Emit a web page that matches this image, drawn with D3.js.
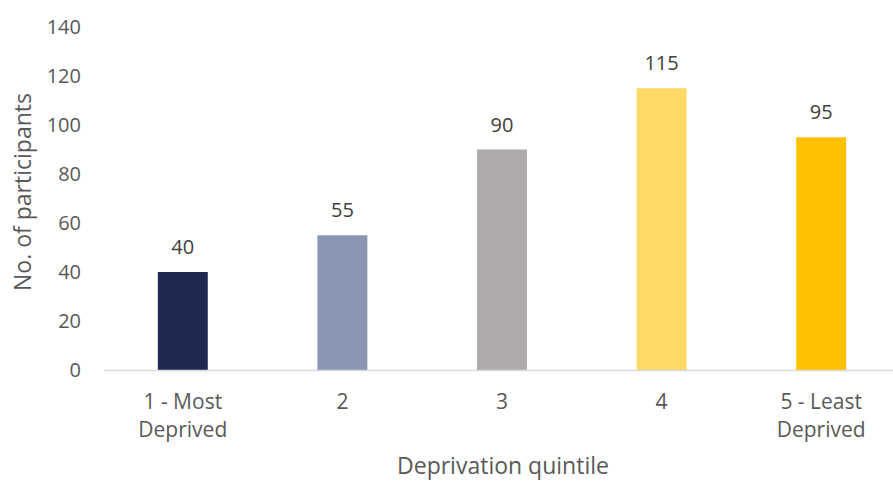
<!DOCTYPE html>
<html>
<head>
<meta charset="utf-8">
<script src="https://cdn.jsdelivr.net/npm/d3@7"></script>
<style>
    body { margin: 0; background: #fff; }
    text { font-family: "Open Sans", Lato, sans-serif; fill: #595959; }
</style>
</head>
<body>
<svg id="chart" width="893" height="481"></svg>
<script>
var categories = [["1 - Most", "Deprived"], ["2"], ["3"], ["4"], ["5 - Least", "Deprived"]];
var values = [40, 55, 90, 115, 95];
var colors = ["#1f2a52", "#8a96b4", "#aeaaaa", "#ffd966", "#ffc000"];
var yTicks = [0, 20, 40, 60, 80, 100, 120, 140];

(function () {
    "use strict";

    var svg = d3.select("#chart"),
        x,
        y,
        idx = d3.range(values.length);

    x = d3.scaleBand().domain(idx).range([103, 901])
        .paddingInner(0.687).paddingOuter(0.3435);
    y = d3.scaleLinear().domain([0, 140]).range([370, 27]);

    // y tick labels
    svg.append("g").selectAll("text").data(yTicks)
        .enter().append("text")
        .attr("x", 81)
        .attr("y", function (d) { return y(d); })
        .attr("dy", "0.35em")
        .attr("text-anchor", "end")
        .style("font-size", "20px")
        .text(function (d) { return d; });

    // bars
    svg.append("g").selectAll("rect").data(idx)
        .enter().append("rect")
        .attr("x", function (i) { return x(i); })
        .attr("y", function (i) { return y(values[i]); })
        .attr("width", x.bandwidth())
        .attr("height", function (i) { return y(0) - y(values[i]); })
        .attr("fill", function (i) { return colors[i]; });

    // baseline
    svg.append("line")
        .attr("x1", 104).attr("x2", 893)
        .attr("y1", y(0) + 0.5).attr("y2", y(0) + 0.5)
        .attr("stroke", "#d9d9d9").attr("stroke-width", 1.5);

    // value labels
    svg.append("g").selectAll("text").data(idx)
        .enter().append("text")
        .attr("x", function (i) { return x(i) + x.bandwidth() / 2; })
        .attr("y", function (i) { return y(values[i]) - 18; })
        .attr("text-anchor", "middle")
        .style("font-size", "20px")
        .style("fill", "#404040")
        .text(function (i) { return values[i]; });

    // category labels
    svg.append("g").selectAll("text").data(idx)
        .enter().append("text")
        .attr("text-anchor", "middle")
        .style("font-size", "21px")
        .attr("x", function (i) { return x(i) + x.bandwidth() / 2; })
        .attr("y", 409)
        .each(function (i) {
            var t = d3.select(this);
            categories[i].forEach(function (line, k) {
                t.append("tspan")
                    .attr("x", x(i) + x.bandwidth() / 2)
                    .attr("dy", k === 0 ? 0 : 28)
                    .text(line);
            });
        });

    // axis titles
    svg.append("text")
        .attr("x", 503).attr("y", 474)
        .attr("text-anchor", "middle")
        .style("font-size", "23px")
        .text("Deprivation quintile");

    svg.append("text")
        .attr("transform", "translate(31,192) rotate(-90)")
        .attr("text-anchor", "middle")
        .style("font-size", "23px")
        .text("No. of participants");
}());
</script>
</body>
</html>
